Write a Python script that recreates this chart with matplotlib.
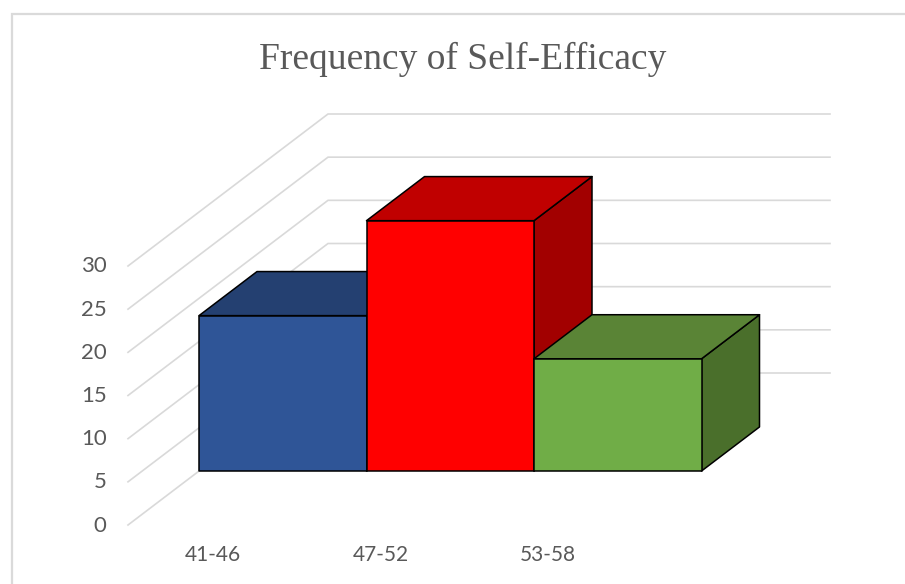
import matplotlib
matplotlib.use("Agg")
import matplotlib.pyplot as plt
from matplotlib.patches import Polygon

title = "Frequency of Self-Efficacy"
categories = ["41-46", "47-52", "53-58"]
values = [18, 29, 13]
ticks = [0, 5, 10, 15, 20, 25, 30]
front_colors = ["#2F5597", "#FF0000", "#70AD47"]
top_colors = ["#244071", "#C00000", "#5A8436"]
side_colors = ["#1B3560", "#A20000", "#4A6F2B"]

fig = plt.figure(figsize=(9.05, 5.84), dpi=100)
ax = fig.add_axes([0, 0, 1, 1])
ax.set_xlim(0, 905)
ax.set_ylim(584, 0)
ax.axis("off")

GRID = "#D9D9D9"
TEXT = "#595959"
EDGE = "#000000"

# oblique projection: s along categories, v value, t depth (0 front, 1 back)
X0, Y0 = 128.0, 525.0
DX, DY = 200.0, -152.0
UNIT = 259.0 / 30
CAT_W = 167.5
BAR_T0, BAR_T1 = 0.355, 0.645


def proj(s, v, t):
    return (X0 + DX * t + CAT_W * s, Y0 + DY * t - UNIT * v)


# chart frame
ax.plot([11.5, 11.5, 905], [584, 14.0, 14.0], color="#DADADA", lw=1.6,
        solid_joinstyle="miter", zorder=1)

# gridlines
x_end = 830.0
for v in ticks:
    a = proj(0, v, 0)
    b = proj(0, v, 1)
    ax.plot([a[0], b[0], x_end], [a[1], b[1], b[1]], color=GRID, lw=1.2,
            solid_joinstyle="miter", zorder=2)
    ax.text(a[0] - 21.5, a[1] + 0.5, str(v), ha="right", va="center",
            fontsize=16, color=TEXT, family="Lato", zorder=6)


def face(points, color, z):
    ax.add_patch(Polygon(points, closed=True, facecolor=color, edgecolor=EDGE,
                         lw=1.1, joinstyle="round", zorder=z))


# bars, painted left to right
S0 = (199.0 - X0 - DX * BAR_T0) / CAT_W
for i, (cat, v) in enumerate(zip(categories, values)):
    l, r = S0 + i, S0 + i + 1
    z = 10 + i * 3
    face([proj(r, 0, BAR_T0), proj(r, 0, BAR_T1), proj(r, v, BAR_T1), proj(r, v, BAR_T0)],
         side_colors[i], z)
    face([proj(l, v, BAR_T0), proj(r, v, BAR_T0), proj(r, v, BAR_T1), proj(l, v, BAR_T1)],
         top_colors[i], z + 1)
    face([proj(l, 0, BAR_T0), proj(r, 0, BAR_T0), proj(r, v, BAR_T0), proj(l, v, BAR_T0)],
         front_colors[i], z + 2)
    cx = proj(l, 0, BAR_T0)[0] - 14
    ax.text(cx, 555, cat, ha="left", va="center", fontsize=15, color=TEXT,
            family="Lato", zorder=6)

ax.text(463, 69, title, ha="center", va="baseline", fontsize=27, color=TEXT,
        family="Liberation Serif", zorder=6)

fig.savefig("out.png", dpi=100)
